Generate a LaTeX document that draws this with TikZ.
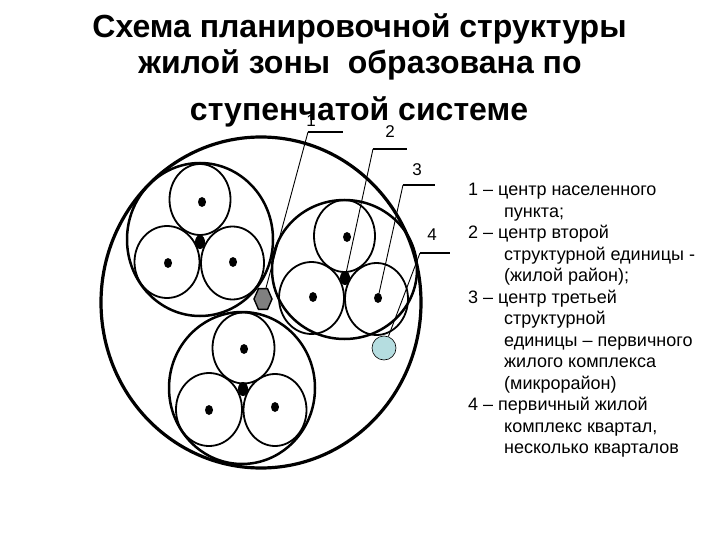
\documentclass[tikz,border=0pt]{standalone}
\usepackage{fontspec}
\setmainfont{Liberation Sans}
\usetikzlibrary{shapes.geometric}
\definecolor{pondblue}{HTML}{B5DDE0}
\tikzset{
  outercirc/.style={ellipse,draw,line width=3.2pt,minimum width=320pt,minimum height=331pt,inner sep=0pt},
  groupcirc/.style 2 args={ellipse,draw,line width=2.5pt,minimum width=#1,minimum height=#2,inner sep=0pt},
  unitcirc/.style 2 args={ellipse,draw,line width=1.8pt,minimum width=#1,minimum height=#2,inner sep=0pt},
  unitdot/.style={ellipse,fill=black,minimum width=8pt,minimum height=10pt,inner sep=0pt},
  centerdot/.style={ellipse,fill=black,minimum width=10pt,minimum height=14pt,inner sep=0pt},
  leader/.style={line width=0.9pt},
  shelf/.style={line width=2pt},
  numlabel/.style={font=\fontsize{17}{18}\selectfont,inner sep=0pt},
  titleline/.style={anchor=base,font=\fontsize{32}{34}\selectfont\bfseries,inner sep=0pt}
}
\begin{document}
\begin{tikzpicture}[x=1pt,y=-1pt]
        \useasboundingbox (0,0) rectangle (720,540);
        \node[titleline] (title1) at (359.5,37.5) {Схема планировочной структуры};
        \node[titleline] (title2) at (360,74) {жилой зоны\ \ образована по};
        \node[titleline] (title3) at (359,121) {ступенчатой системе};

        \node[outercirc] (town) at (261,302.5) {};
        \node[groupcirc={146pt}{153pt}] (groupa) at (200,239.5) {};
        \node[groupcirc={145pt}{139pt}] (groupb) at (344.5,269.5) {};
        \node[groupcirc={146pt}{152pt}] (groupc) at (242,388) {};

        \node[unitcirc={61pt}{71pt}] (a1) at (200,199.5) {};
        \node[unitcirc={65pt}{72pt}] (a2) at (167,262) {};
        \node[unitcirc={63pt}{73pt}] (a3) at (232.5,263) {};
        \node[unitcirc={61pt}{72pt}] (b1) at (344.5,236) {};
        \node[unitcirc={65pt}{72pt}] (b2) at (311.5,298) {};
        \node[unitcirc={63pt}{72pt}] (b3) at (376.5,299) {};
        \node[unitcirc={62pt}{71pt}] (c1) at (243.5,348) {};
        \node[unitcirc={66pt}{73pt}] (c2) at (209,409.5) {};
        \node[unitcirc={63pt}{72pt}] (c3) at (275,410) {};

        \node[unitdot] (a1dot) at (202,202) {};
        \node[unitdot] (a2dot) at (168,263) {};
        \node[unitdot] (a3dot) at (233,262) {};
        \node[unitdot] (b1dot) at (347,237) {};
        \node[unitdot] (b2dot) at (313,297) {};
        \node[unitdot] (b3dot) at (378,298) {};
        \node[unitdot] (c1dot) at (244,349) {};
        \node[unitdot] (c2dot) at (209,410) {};
        \node[unitdot] (c3dot) at (275,407) {};
        \node[centerdot] (acenter) at (200,242) {};
        \node[centerdot] (bcenter) at (345,278) {};
        \node[centerdot] (ccenter) at (243,389) {};

        \node[regular polygon,regular polygon sides=6,draw,line width=1.4pt,fill=black!50,minimum size=24pt,inner sep=0pt,xscale=0.75] (hub) at (263,299) {};
        \node[circle,draw,line width=0.6pt,fill=pondblue,minimum size=24pt,inner sep=0pt] (pond) at (384,348) {};

        \coordinate (s1a) at (308,132);
        \coordinate (s1b) at (343,132);
        \coordinate (s2a) at (373,149);
        \coordinate (s2b) at (407,149);
        \coordinate (s3a) at (403,185);
        \coordinate (s3b) at (435,185);
        \coordinate (s4a) at (420,253);
        \coordinate (s4b) at (450,253);
        \draw[shelf] (s1a) -- (s1b) (s2a) -- (s2b) (s3a) -- (s3b) (s4a) -- (s4b);
        \draw[leader] (s1a) -- (hub) (s2a) -- (bcenter.center) (s3a) -- (b3dot.center) (s4a) -- (pond);

        \node[numlabel] (num1) at (311,121) {1};
        \node[numlabel] (num2) at (390,132) {2};
        \node[numlabel] (num3) at (417,170) {3};
        \node[numlabel] (num4) at (432,235) {4};

        \node[anchor=north west,align=left,inner sep=0pt,font=\fontsize{18}{21.5}\selectfont] (legend) at (468,183) {1 – центр населенного\\
            \hspace*{36pt}пункта;\\
            2 – центр второй\\
            \hspace*{36pt}структурной единицы -\\
            \hspace*{36pt}(жилой район);\\
            3 – центр третьей\\
            \hspace*{36pt}структурной\\
            \hspace*{36pt}единицы – первичного\\
            \hspace*{36pt}жилого комплекса\\
            \hspace*{36pt}(микрорайон)\\
            4 – первичный жилой\\
            \hspace*{36pt}комплекс квартал,\\
            \hspace*{36pt}несколько кварталов};
    \end{tikzpicture}
\end{document}
